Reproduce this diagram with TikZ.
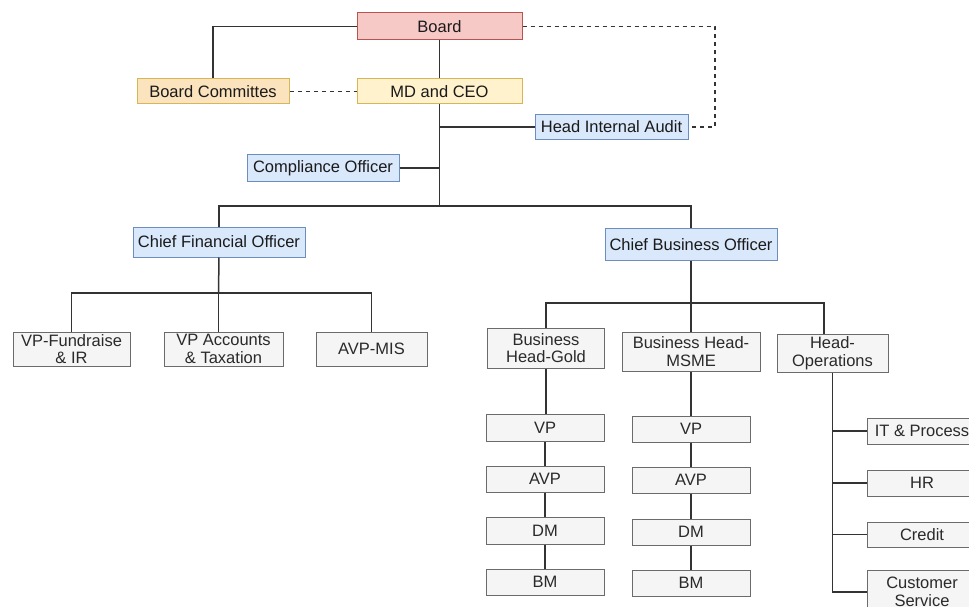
\documentclass[tikz,border=0pt]{standalone}
\usepackage{fontspec}
\setmainfont{Liberation Sans}
\usetikzlibrary{calc}
\definecolor{redfill}{HTML}{F6C9C7}
\definecolor{redline}{HTML}{B85450}
\definecolor{yelfill}{HTML}{FFF2CC}
\definecolor{orfill}{HTML}{FBE3BD}
\definecolor{yelline}{HTML}{D6B656}
\definecolor{bluefill}{HTML}{DAE8FC}
\definecolor{blueline}{HTML}{6C8EBF}
\definecolor{grayfill}{HTML}{F5F5F5}
\definecolor{grayline}{HTML}{6B6B6B}
\definecolor{conn}{HTML}{333333}
\definecolor{txt}{HTML}{1A1A1A}
\definecolor{gtxt}{HTML}{2A2A2A}
\tikzset{
  box/.style={draw, line width=1pt, inner sep=0pt, align=center,
    font=\fontsize{16.5}{17.5}\selectfont, text=txt},
  redbox/.style={box, fill=redfill, draw=redline},
  yelbox/.style={box, fill=yelfill, draw=yelline},
  orbox/.style={box, fill=orfill, draw=yelline},
  bluebox/.style={box, fill=bluefill, draw=blueline},
  graybox/.style={box, fill=grayfill, draw=grayline, text=gtxt},
  link/.style={draw=conn, line width=1.5pt},
  dlink/.style={draw=conn, line width=1.3pt, dash pattern=on 4.5pt off 3.5pt},
}
\begin{document}
\begin{tikzpicture}[x=1pt,y=-1pt]
\useasboundingbox (0,0) rectangle (969,607);
\begin{scope}
\clip (0,0) rectangle (969,607);
% top
\node[redbox, minimum width=165, minimum height=27] (board) at (439.5,26.5) {Board};
\node[orbox, minimum width=152, minimum height=25] (bc) at (213,91.5) {Board Committes};
\node[yelbox, minimum width=165, minimum height=25] (md) at (439.5,91.5) {MD and CEO};
\node[bluebox, minimum width=153, minimum height=25] (hia) at (611.5,127) {Head Internal Audit};
\node[bluebox, minimum width=152, minimum height=27] (co) at (323,168) {Compliance Officer};
\node[bluebox, minimum width=172, minimum height=30] (cfo) at (219,242) {Chief Financial Officer};
\node[bluebox, minimum width=172, minimum height=32] (cbo) at (691,244.5) {Chief Business Officer};
% cfo reports
\node[graybox, minimum width=117, minimum height=34] (vpf) at (71.5,349) {VP-Fundraise\\\& IR};
\node[graybox, minimum width=119, minimum height=34] (vpa) at (223.5,349) {VP Accounts\\\& Taxation};
\node[graybox, minimum width=111, minimum height=34] (avpmis) at (371.5,349) {AVP-MIS};
% cbo reports
\node[graybox, minimum width=117, minimum height=40] (bhg) at (546,348) {Business\\Head-Gold};
\node[graybox, minimum width=138, minimum height=39] (bhm) at (691,351.5) {Business Head-\\MSME};
\node[graybox, minimum width=111, minimum height=38] (hops) at (832.5,353) {Head-\\Operations};
% gold column
\node[graybox, minimum width=118, minimum height=27] (gvp) at (545,427.5) {VP};
\node[graybox, minimum width=118, minimum height=26] (gavp) at (545,479) {AVP};
\node[graybox, minimum width=118, minimum height=27] (gdm) at (545,530.5) {DM};
\node[graybox, minimum width=118, minimum height=26] (gbm) at (545,582) {BM};
% msme column
\node[graybox, minimum width=118, minimum height=26] (mvp) at (691,429) {VP};
\node[graybox, minimum width=118, minimum height=26] (mavp) at (691,480) {AVP};
\node[graybox, minimum width=118, minimum height=26] (mdm) at (691,532) {DM};
\node[graybox, minimum width=118, minimum height=26] (mbm) at (691,583) {BM};
% operations
\node[graybox, minimum width=110, minimum height=26] (it) at (922,431) {IT \& Process};
\node[graybox, minimum width=110, minimum height=26] (hr) at (922,483) {HR};
\node[graybox, minimum width=110, minimum height=25] (cr) at (922,534.5) {Credit};
\node[graybox, minimum width=110, minimum height=44] (cs) at (922,592) {Customer\\Service};
% junctions
\coordinate (j1) at (439.5,206);
\coordinate (j2) at (218.5,293);
\coordinate (j3) at (691,303);
\coordinate (dcor) at (715,0);
\coordinate (opsin) at (824,0);
% connectors
\draw[link] (board.west) -| (bc.north);
\draw[link] (board.south) -- (md.north);
\draw[dlink] (bc.east) -- (md.west);
\draw[dlink] (board.east) -- (board.east -| dcor) |- (hia.east);
\draw[link] (md.south) -- (j1);
\draw[link] (hia.west) -- (hia.west -| md.south);
\draw[link] (co.east) -- (co.east -| md.south);
\draw[link] (cfo.north) |- (j1) -| (cbo.north);
\draw[link] (cfo.south) -- (j2);
\draw[link] (vpf.north) |- (j2) -| (avpmis.north);
\draw[link] (j2) -- (j2 |- vpa.north);
\draw[link] (cbo.south) -- (j3);
\draw[link] (bhg.north) |- (j3) -| (opsin |- hops.north);
\draw[link] (j3) -- (j3 |- bhm.north);
\draw[link] (bhg.south) -- (bhg.south |- gvp.north);
\draw[link] (gvp) -- (gavp) (gavp) -- (gdm) (gdm) -- (gbm);
\draw[link] (bhm.south) -- (mvp.north);
\draw[link] (mvp) -- (mavp) (mavp) -- (mdm) (mdm) -- (mbm);
\draw[link] (hops.south) |- (cs.west);
\draw[link] (it.west) -- (it.west -| hops.south);
\draw[link] (hr.west) -- (hr.west -| hops.south);
\draw[link] (cr.west) -- (cr.west -| hops.south);
\end{scope}
\end{tikzpicture}
\end{document}
